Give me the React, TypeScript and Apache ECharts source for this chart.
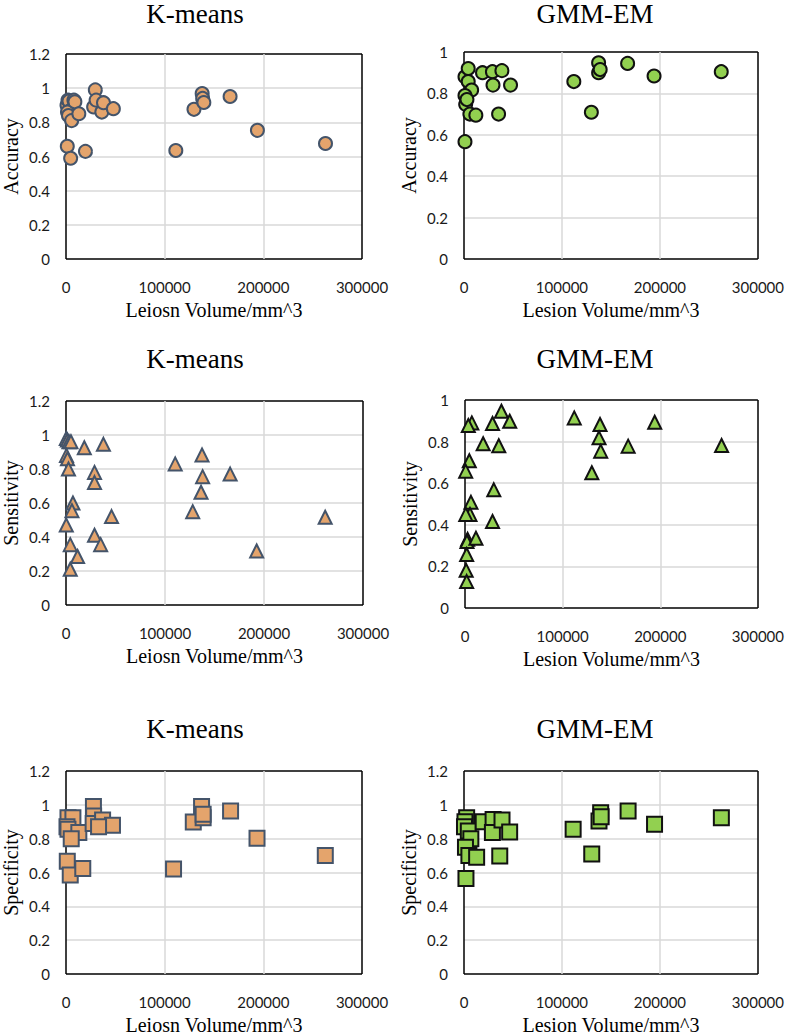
import React, { useEffect, useRef } from "react";
import * as echarts from "echarts";

// ---- data: [lesion volume (mm^3), metric] ----
const kmAccuracy: [number, number][] = [
  [1000, 0.9], [2000, 0.93], [3000, 0.925], [4500, 0.87], [1500, 0.86], [2500, 0.84],
  [5700, 0.81], [8000, 0.93], [9000, 0.92], [13000, 0.85], [1300, 0.66], [4700, 0.59],
  [19700, 0.63], [28000, 0.89], [29700, 0.99], [30500, 0.93], [36300, 0.86], [38000, 0.915],
  [48000, 0.88], [111300, 0.635], [129700, 0.876], [138000, 0.969], [138500, 0.94],
  [139700, 0.916], [166300, 0.951], [194000, 0.753], [263000, 0.676],
];
const gmmAccuracy: [number, number][] = [
  [1000, 0.88], [4300, 0.92], [4300, 0.857], [7800, 0.816], [1000, 0.79], [1700, 0.747],
  [3000, 0.77], [6000, 0.7], [12100, 0.695], [1000, 0.567], [18900, 0.9], [29000, 0.905],
  [29600, 0.84], [38700, 0.91], [35300, 0.7], [47500, 0.84], [112100, 0.857], [130000, 0.709],
  [137400, 0.948], [137400, 0.9], [139000, 0.915], [167000, 0.945], [194000, 0.884], [262600, 0.905],
];
const kmSensitivity: [number, number][] = [
  [300, 0.98], [1500, 0.97], [3000, 0.96], [5000, 0.96], [500, 0.88], [1500, 0.86],
  [2500, 0.8], [18500, 0.925], [37800, 0.945], [28800, 0.78], [28800, 0.72], [7000, 0.6],
  [6000, 0.555], [300, 0.47], [46000, 0.52], [28800, 0.41], [35000, 0.355], [4300, 0.355],
  [11700, 0.285], [4300, 0.21], [110300, 0.83], [137400, 0.882], [138000, 0.755],
  [136400, 0.663], [128000, 0.549], [165800, 0.77], [192600, 0.318], [261800, 0.516],
];
const gmmSensitivity: [number, number][] = [
  [37300, 0.946], [45800, 0.898], [28200, 0.887], [7000, 0.89], [3400, 0.877], [18600, 0.79],
  [34600, 0.78], [4400, 0.708], [700, 0.658], [29500, 0.568], [6100, 0.508], [5100, 0.45],
  [800, 0.45], [28200, 0.416], [2700, 0.33], [2000, 0.32], [11200, 0.335], [1700, 0.257],
  [1200, 0.181], [1700, 0.127], [111900, 0.914], [138300, 0.882], [137300, 0.818],
  [139000, 0.754], [129900, 0.65], [167100, 0.778], [194300, 0.893], [262800, 0.781],
];
const kmSpecificity: [number, number][] = [
  [2000, 0.924], [7000, 0.924], [1000, 0.87], [2000, 0.856], [13000, 0.837], [5300, 0.8],
  [1300, 0.666], [4300, 0.585], [17000, 0.623], [27800, 0.99], [28000, 0.934], [27500, 0.89],
  [37100, 0.91], [47100, 0.879], [33000, 0.87], [109000, 0.62], [129000, 0.899],
  [137400, 0.99], [139000, 0.924], [139000, 0.945], [166800, 0.963], [193600, 0.802], [262800, 0.7],
];
const gmmSpecificity: [number, number][] = [
  [2700, 0.924], [1000, 0.9], [500, 0.87], [4400, 0.846], [7000, 0.8], [1500, 0.75],
  [5000, 0.7], [12900, 0.69], [19600, 0.9], [29700, 0.914], [29000, 0.837], [38800, 0.91],
  [46600, 0.84], [36500, 0.697], [2000, 0.565], [111400, 0.856], [130400, 0.71],
  [139500, 0.953], [137800, 0.905], [140000, 0.93], [167500, 0.963], [194500, 0.885], [262700, 0.924],
];

const titles = ["K-means", "GMM-EM", "K-means", "GMM-EM", "K-means", "GMM-EM"];
const yNames = ["Accuracy", "Accuracy", "Sensitivity", "Sensitivity", "Specificity", "Specificity"];
const xNames = [
  "Leiosn Volume/mm^3", "Lesion Volume/mm^3",
  "Leiosn Volume/mm^3", "Lesion Volume/mm^3",
  "Leiosn Volume/mm^3", "Lesion Volume/mm^3",
];
const yMaxes = [1.2, 1, 1.2, 1, 1.2, 1.2];
const xTicks = [0, 100000, 200000, 300000];

// ---- layout / style ----
const grids = [
  { left: 62, top: 54, width: 300, height: 205 },
  { left: 464, top: 52, width: 297, height: 207 },
  { left: 64, top: 401, width: 299, height: 204 },
  { left: 465, top: 400, width: 295, height: 208 },
  { left: 63, top: 771, width: 299, height: 206 },
  { left: 464, top: 771, width: 296, height: 206 },
];
const titleTops = [-5, -5, 340, 340, 710, 710];
const titleCenters = [190, 590, 190, 590, 190, 590];

const KM_FILL = "#E4A46C";
const KM_EDGE = "#44546A";
const GMM_FILL = "#92D050";
const GMM_EDGE = "#111111";
const GRID_GRAY = "#D9D9D9";
const SERIF = "'Liberation Serif', 'Times New Roman', serif";
const SANS = "Lato, 'Noto Sans', sans-serif";

// colours for split lines: black on the plot's edges, grey inside
const edgeColors = (n: number) =>
  Array.from({ length: n }, (_, k) => (k === 0 || k === n - 1 ? "#000" : GRID_GRAY));

export default function App() {
  const ref = useRef<HTMLDivElement>(null);
  useEffect(() => {
    if (!ref.current) return;
    const chart = echarts.init(ref.current, null, { renderer: "svg" });
    const datasets = [kmAccuracy, gmmAccuracy, kmSensitivity, gmmSensitivity, kmSpecificity, gmmSpecificity];
    const symbols = ["circle", "circle", "triangle", "triangle", "rect", "rect"];
    const sizes = [13, 13, 13, 13, 15, 15];

    chart.setOption({
      animation: false,
      backgroundColor: "#ffffff",
      title: titles.map((t, i) => ({
        text: t,
        left: titleCenters[i],
        top: titleTops[i],
        textAlign: "center",
        textStyle: { fontFamily: SERIF, fontSize: 27, fontWeight: "normal", color: "#000" },
      })),
      grid: grids.map((g) => ({
        ...g,
        show: false,
        containLabel: false,
      })),
      xAxis: grids.map((_, i) => ({
        type: "value",
        gridIndex: i,
        min: xTicks[0],
        max: xTicks[xTicks.length - 1],
        interval: xTicks[1] - xTicks[0],
        name: xNames[i],
        nameLocation: "middle",
        nameGap: 41,
        nameTextStyle: { fontFamily: SERIF, fontSize: 20, color: "#000" },
        axisLine: { show: false },
        axisTick: { show: false },
        axisLabel: {
          fontFamily: SANS, fontSize: 15, color: "#1a1a1a", margin: 20,
          formatter: (v: number) => String(v),
        },
        splitLine: { show: true, lineStyle: { color: edgeColors(xTicks.length), width: 1.5 } },
      })),
      yAxis: grids.map((_, i) => ({
        type: "value",
        gridIndex: i,
        min: 0,
        max: yMaxes[i],
        interval: 0.2,
        name: yNames[i],
        nameLocation: "middle",
        nameRotate: 90,
        nameGap: 45,
        nameTextStyle: { fontFamily: SERIF, fontSize: 20, color: "#000" },
        axisLine: { show: false },
        axisTick: { show: false },
        axisLabel: {
          fontFamily: SANS, fontSize: 15, color: "#1a1a1a", margin: 16,
          formatter: (v: number) => String(Math.round(v * 10) / 10),
        },
        splitLine: {
          show: true,
          lineStyle: { color: edgeColors(Math.round(yMaxes[i] / 0.2) + 1), width: 1.5 },
        },
      })),
      series: datasets.map((d, i) => {
        const km = i % 2 === 0;
        return {
          type: "scatter",
          xAxisIndex: i,
          yAxisIndex: i,
          data: d,
          symbol: symbols[i],
          symbolSize: sizes[i],
          clip: false,
          itemStyle: {
            color: km ? KM_FILL : GMM_FILL,
            borderColor: km ? KM_EDGE : GMM_EDGE,
            borderWidth: 2,
            opacity: 1,
          },
        };
      }),
    });
    return () => chart.dispose();
  }, []);

  return (
    <div
      ref={ref}
      style={{ position: "absolute", left: 0, top: 0, width: 787, height: 1036, background: "#fff" }}
    />
  );
}
